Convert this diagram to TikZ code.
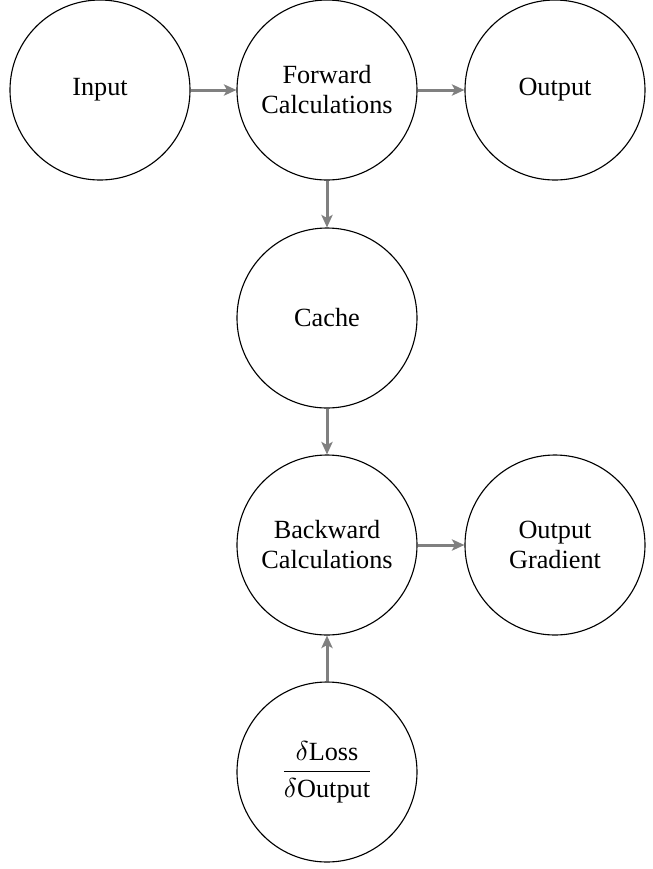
\documentclass[tikz,border=0pt]{standalone}
\usepackage{fontspec}
\setmainfont{Liberation Serif}
\usetikzlibrary{arrows.meta}
\begin{document}
\begin{tikzpicture}[x=0.4pt,y=-0.4pt,
  stage/.style={circle,draw=black,line width=0.45pt,minimum size=72pt,inner sep=0pt,align=center,font=\fontsize{10.5pt}{12pt}\selectfont},
  flow/.style={draw=black!50,line width=1.2pt,-{Stealth[length=5pt,width=4.5pt,inset=1.2pt]}}]
\useasboundingbox (0,0) rectangle (653,869);
\node[stage] (in) at (100,90) {Input};
\node[stage] (fw) at (327,90) {Forward\\Calculations};
\node[stage] (out) at (555,90) {Output};
\node[stage] (cache) at (327,318) {Cache};
\node[stage] (bw) at (327,545) {Backward\\Calculations};
\node[stage] (og) at (555,545) {Output\\Gradient};
\node[stage] (dl) at (327,772) {$\displaystyle\frac{\delta\mbox{Loss}}{\delta\mbox{Output}}$};
\draw[flow] (in) -- (fw);
\draw[flow] (fw) -- (out);
\draw[flow] (fw) -- (cache);
\draw[flow] (cache) -- (bw);
\draw[flow] (bw) -- (og);
\draw[flow] (dl) -- (bw);
\end{tikzpicture}
\end{document}
